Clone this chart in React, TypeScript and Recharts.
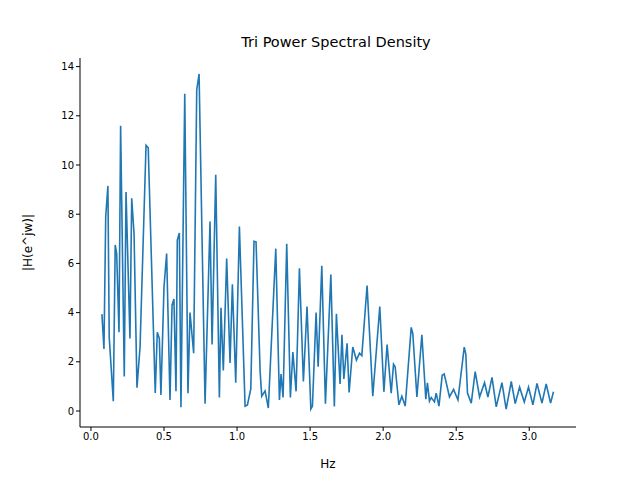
import React from "react";
import { LineChart, Line, XAxis, YAxis, Label } from "recharts";

const xs = [0.075,0.089,0.101,0.116,0.125,0.153,0.166,0.176,0.192,0.203,0.228,0.240,0.267,0.279,0.295,0.315,0.336,0.377,0.392,0.440,0.454,0.468,0.479,0.5,0.518,0.541,0.555,0.568,0.582,0.591,0.605,0.616,0.642,0.664,0.678,0.703,0.724,0.740,0.781,0.815,0.829,0.854,0.879,0.890,0.906,0.929,0.952,0.968,0.991,1.016,1.055,1.071,1.094,1.116,1.130,1.158,1.169,1.192,1.214,1.265,1.290,1.301,1.315,1.340,1.365,1.382,1.404,1.427,1.454,1.479,1.505,1.516,1.541,1.555,1.580,1.605,1.642,1.666,1.680,1.705,1.718,1.731,1.753,1.767,1.792,1.817,1.838,1.854,1.890,1.929,1.977,2.005,2.027,2.055,2.071,2.082,2.108,2.128,2.151,2.192,2.203,2.231,2.265,2.292,2.303,2.317,2.329,2.351,2.363,2.382,2.404,2.418,2.454,2.482,2.512,2.555,2.566,2.577,2.603,2.630,2.660,2.694,2.717,2.745,2.774,2.813,2.842,2.877,2.904,2.934,2.966,2.995,3.025,3.053,3.087,3.116,3.146,3.166];
const ys = [3.94,2.52,7.9,9.15,3.0,0.4,6.75,6.4,3.2,11.6,1.4,8.9,2.95,8.65,7.2,0.95,2.6,10.8,10.7,0.73,3.2,2.95,0.65,5.05,6.4,0.45,4.3,4.55,0.8,6.95,7.24,0.15,12.9,0.72,4.0,2.35,13.05,13.7,0.3,7.7,2.7,9.6,0.55,4.2,1.65,6.2,1.95,5.15,1.15,7.5,0.2,0.25,0.9,6.9,6.88,1.6,0.6,0.82,0.12,6.6,0.45,1.5,0.55,6.8,0.55,2.4,0.8,5.8,1.2,4.25,0.08,0.2,4.0,1.8,5.9,0.3,5.55,0.18,3.95,1.1,3.1,1.3,2.75,0.75,2.6,2.07,2.35,2.25,5.1,0.6,4.25,0.78,2.7,0.72,1.9,1.8,0.25,0.6,0.2,3.4,3.15,0.57,3.1,0.48,1.15,0.4,0.55,0.37,0.73,0.2,1.45,1.5,0.57,0.88,0.45,2.6,2.3,0.73,0.32,1.6,0.57,1.15,0.57,1.37,0.17,1.15,0.08,1.2,0.3,0.97,0.37,0.97,0.25,1.12,0.32,1.1,0.32,0.78];
const xTicks = [0, 0.5, 1, 1.5, 2, 2.5, 3];
const yTicks = [0, 2, 4, 6, 8, 10, 12, 14];

const data = xs.map((x, i) => ({ x, y: ys[i] }));
const font = "DejaVu Sans, sans-serif";
const tickStyle = { fill: "#000", fontSize: 10, fontFamily: font };

export default function App() {
  return (
    <div style={{ position: "absolute", left: 0, top: 0, width: 640, height: 480, background: "#fff" }}>
      <div style={{ position: "absolute", top: 34, left: 0, width: 640, textAlign: "center", fontFamily: font, fontSize: 14.5, paddingLeft: 16 }}>
        Tri Power Spectral Density
      </div>
      <LineChart width={640} height={480} data={data} margin={{ top: 58, right: 64, bottom: 0, left: 0 }}>
        <XAxis dataKey="x" type="number" domain={[-0.075, 3.32]} ticks={xTicks} tickFormatter={(v) => v.toFixed(1)}
          allowDataOverflow height={53} tick={tickStyle} tickSize={4} stroke="#000" axisLine={{ stroke: "#000" }}>
          <Label value="Hz" position="insideBottom" offset={12} style={{ fill: "#000", fontSize: 12, fontFamily: font }} />
        </XAxis>
        <XAxis xAxisId="top" orientation="top" dataKey="x" type="number" domain={[-0.075, 3.32]} tick={false} tickLine={false} height={0} stroke="#000" />
        <YAxis type="number" domain={[-0.65, 14.35]} ticks={yTicks} allowDataOverflow width={80} tick={tickStyle} tickSize={4} stroke="#000">
          <Label value="|H(e^jw)|" angle={-90} position="insideLeft" offset={28} style={{ fill: "#000", fontSize: 12, fontFamily: font, textAnchor: "middle" }} />
        </YAxis>
        <YAxis yAxisId="right" orientation="right" type="number" domain={[-0.65, 14.35]} tick={false} tickLine={false} width={0} stroke="#000" />
        <Line dataKey="y" stroke="#1f77b4" strokeWidth={1.6} dot={false} isAnimationActive={false} />
      </LineChart>
    </div>
  );
}
